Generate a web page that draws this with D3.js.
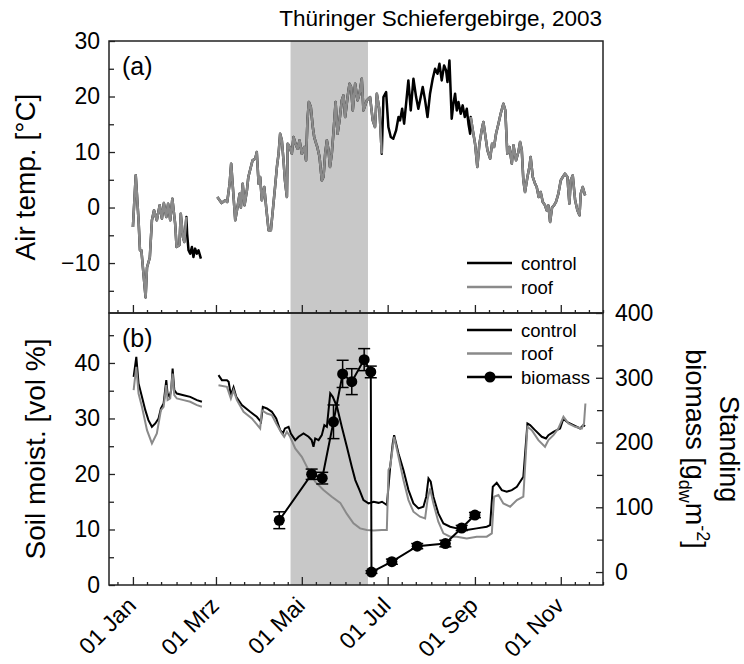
<!DOCTYPE html>
<html>
<head>
<meta charset="utf-8">
<script src="https://cdn.jsdelivr.net/npm/d3@7"></script>
<style>
body { margin: 0; background: #fff; }
svg { font-family: 'Liberation Sans', Arial, sans-serif; }
</style>
</head>
<body>
<svg></svg>
<script>
// all days counted from 01 Jan 2003
let airControl = [
    [0,-3.5],[2,5.8],[4,-2.3],[5,-7.7],[6,-7.7],[9,-16.2],[10,-10.8],[12,-9],[13.5,-2.3],[15,-0.5],
    [17,-2.3],[19,0.4],[20.6,-2],[22,0.8],[23.7,-1.7],[25,0.7],[26.5,-2.3],[28,1.6],[30,-2.9],[31,-7.1],
    [33,-6.8],[34,-1.1],[35.5,-5.3],[36.5,-6.2],[38,-1.7],[38.5,-4.7],[39.5,-7.7],[40.7,-8.3],[41.9,-7.1],
    [43,-8.9],[44.2,-7.4],[45.4,-8.3],[46.6,-7.7],[48.3,-9.2],
    [60,1.9],[61.6,1.3],[63,0.8],[65.6,1.3],[67,1.0],[68.7,4.3],[69.8,7.9],[71,3.7],[72.7,-2.3],[74.3,0.1],
    [75.8,2.5],[76.7,0],[78,4.3],[79.3,0.4],[81,3.1],[82,5.5],[83.8,7.3],[85,8.5],[86.9,8.8],[88,10],
    [89.3,4.3],[90.4,5.5],[91.6,1.3],[93.3,3.7],[94.7,0],[96.4,-4.1],[98,-4.1],[99.4,-0.5],[101,3.7],
    [102.3,7.3],[103.5,9.7],[104.6,13.3],[105.8,12.1],[107,8.5],[108,4.9],[109.4,1.9],[110,11.5],[111.3,10.9],
    [112.9,9.7],[114.1,12.7],[115.5,11.5],[117,10.6],[118.4,12.1],[120,9.7],[121.7,10.9],[123,8.5],[124,15.7],
    [125,19],[126.4,18.1],[127.8,14.5],[128.8,12.7],[130.2,11.5],[131,10.9],[132.6,9.1],[134.2,4.9],[135.4,5.5],
    [136.6,9.7],[137.8,12.1],[139,10.3],[140,7.3],[141.3,9.7],[142.6,13.9],[144,19],[145.4,13.3],[146.8,15.7],
    [148.4,19.3],[149.6,20.2],[150.8,16.3],[152.5,19.9],[153.9,22.3],[155,21.7],[156.2,17.5],[157.9,22.3],
    [159.6,19.3],[161,20.5],[162.6,23.2],[163.8,17.5],[166.2,19.3],[168.5,19.9],[170.4,15.7],[172,14.5],
    [173.3,20.5],[175.2,17.5],[176.8,9.7],[178,19.9],[179.9,20.8],[181.5,14.5],[183.2,12.7],[185,12.4],
    [187,13.9],[188.7,16.3],[189.8,15.7],[191.3,17.8],[192.7,15.1],[194.1,18.7],[195.7,22.9],[197.4,17.5],
    [199.3,23.2],[201.2,19.9],[202.8,17.8],[204,19.3],[205.9,21.7],[207.6,19.3],[209.3,16.3],[211.1,20.5],
    [213,23.2],[214.7,25],[216.4,24.1],[217.8,25.9],[219.4,22.9],[221.1,25.6],[222.5,24.7],[223.5,22.6],
    [224.9,26.5],[226.5,16],[227.7,18.7],[228.9,20.5],[230.1,17.5],[231.3,19],[232.9,16.9],[234.3,18.4],
    [235.8,16.3],[237.2,17.8],[238.4,15.1],[239.6,13.3],[240,16.3],[241.5,13.9],[243.1,11.5],[244.7,7.3],
    [246.2,11.5],[247.8,13.9],[249,15.4],[250.2,13.3],[251.9,10.3],[253.8,8.8],[255.2,11.5],[256.6,10.9],
    [258,13.3],[259.7,15.1],[261.3,16.9],[263.2,18.7],[264.6,17.5],[266,9.7],[267.5,10.9],[269.2,7.9],
    [270.4,11.2],[272.2,8.5],[273.9,10],[275.1,11.8],[276.3,10.3],[277.4,4.9],[278.6,2.8],[280.3,5.5],
    [281.7,7.3],[282.6,9.1],[284.1,5.5],[285.7,4.3],[286.9,3.7],[288.3,1.9],[289.7,2.8],[291.2,1],[292.8,0.4],
    [294,-0.5],[295.2,0.4],[296.4,-2.6],[297.8,0],[299.2,0.4],[300.6,1],[302.3,2.5],[304,4.9],[305.4,5.5],
    [307,6.1],[308.7,5.5],[310.1,0.7],[311.1,4.9],[312.5,5.8],[314.2,1.3],[315.8,-0.5],[317.3,-1.4],
    [318.2,2.5],[319.6,3.7],[321.3,2.2]
]
// periods where the roof logger recorded air temp (same values as control)
let roofAirPeriods = [[0, 38], [60, 177], [240, 322]]

let soilControl = [
    [0.5,37.5],[2.4,41.1],[4,36.3],[6.4,33.9],[8.8,31.5],[11,29.7],[13.5,28.5],[15.9,29.1],[18.2,30],
    [19.9,31.8],[21.8,32.7],[23.7,36.9],[24.6,34.5],[26,33.9],[27.2,35.1],[28.2,39],[29.4,35.1],[31.2,34.5],
    [36,34.2],[40.7,33.9],[45.5,33.3],[49,33],
    [60.8,37.8],[63.2,36.9],[66.8,36.9],[68,36.6],[69.6,34.2],[71.5,35.6],[73.4,33.9],[77.4,32.4],[83.3,31.2],
    [88,30.3],[91,29.4],[92.3,32.1],[95.2,31.8],[98.7,31.2],[101.8,30],[104.6,27.9],[106.5,27.3],[108,28.2],
    [110.6,28.5],[112.2,27.3],[115.3,26.1],[117.7,26.7],[121.2,27.3],[124.8,26.7],[127,26.1],[128.3,24.9],
    [129.5,26.4],[131.9,26.1],[134.2,27],[136,28.8],[137.8,28.5],[140.2,34.5],[142,33.9],[145,32.1],
    [148.4,28.5],[152,24.9],[155.5,21.3],[158,18.9],[161,17.1],[163.8,15.3],[167.4,14.7],[171,15],
    [174.5,14.8],[177,15],[180.4,14.4],[181.6,17.7],[182.8,21.3],[184.6,25.5],[185.6,27],[188.7,23.7],
    [192.2,20.7],[195.8,17.1],[199.3,14.7],[202.9,13.8],[206.4,14.1],[208.4,15.9],[210,19.2],[211.6,18.6],
    [213.5,15.9],[217,12.9],[220.6,11.1],[225.4,10.5],[230.1,10.2],[237.2,9.9],[244.3,10.2],[251.4,10.5],
    [253.8,10.8],[255.7,17.7],[258.5,18.4],[262.1,17.1],[265.6,16.8],[269.2,17.1],[272.8,17.7],[277.4,19.5],
    [280.3,29.1],[282.2,28.8],[285.7,27.9],[290.5,26.7],[293.5,26.4],[295.2,27],[298.8,27.6],[301.1,27.9],
    [303.5,28.2],[305.9,30],[308.2,29.4],[313,28.8],[317.7,28.2],[320.1,28.8],[321.3,28.6]
]

let soilRoof = [
    [0.5,35.1],[2.4,39.3],[4,34.5],[6.4,32.1],[10,27.9],[13.5,25.5],[17,27.3],[19.9,31.5],[21.8,32.1],
    [23.7,36],[24.6,33.3],[26.5,33.6],[28.2,38.1],[29.4,34.2],[31.2,33.6],[36,33.3],[40.7,33],[45.5,32.4],[49,32.1],
    [60.8,36],[66.8,35.7],[69.6,33.6],[71.5,35.1],[73.9,33.3],[78.6,31.2],[84.5,30],[90.4,28.2],[91.6,31.5],
    [95.2,30.9],[98.7,30.6],[101.8,29.1],[105.8,27.3],[107.5,26.7],[109.4,27.6],[111.7,26.7],[115.3,24.6],
    [120,23.1],[124.8,20.7],[129.5,18.6],[135.4,17.1],[141.3,15.9],[147.3,14.8],[152,12.8],[156.7,11.1],
    [161.4,10.2],[166.2,9.9],[171,9.8],[176.8,9.9],[180.4,9.9],[181.6,20.7],[182.8,21.3],[185.6,26.7],
    [188.7,23.1],[192.2,18.9],[195.8,15.3],[199.3,13.2],[204,12.3],[207.6,12],[209.3,15.3],[211.1,17.4],
    [213.5,14.7],[217,11.4],[220.6,9.3],[225.4,8.7],[230.1,8.7],[237.2,8.4],[244.3,8.7],[251.4,8.7],
    [255,9.3],[256.6,15.9],[259.7,16.2],[263.2,14.7],[268,14.1],[272.8,15.3],[277.4,15.9],[280.3,28.5],
    [283.4,27.9],[288.1,26.1],[292.8,24.9],[295.2,26.1],[298.8,27],[302.3,28.2],[305.9,30.3],[309.4,29.1],
    [314.2,28.5],[318.9,28.2],[320.5,29.1],[321.5,32.7]
]

let bioDays = [104, 127, 134.5, 142.5, 149, 155.5, 164.3, 169, 169.5, 184, 202, 222, 233.6, 243]
let bioValues = [80, 151, 145, 232, 306, 294, 328, 309, 0, 16, 40, 44, 68, 88]
let bioSd = [13, 8, 9, 26, 21, 20, 17, 9, 2, 4, 4, 5, 4, 4]

let shadeDays = [112, 167]

let monthNames = ['Jan', 'Feb', 'Mrz', 'Apr', 'Mai', 'Jun', 'Jul', 'Aug', 'Sep', 'Okt', 'Nov', 'Dez']
let airTicks = [-10, 0, 10, 20, 30]
let soilTicks = [0, 10, 20, 30, 40]
let bioTicks = [0, 100, 200, 300, 400]

let legendA = ['control', 'roof']
let legendB = ['control', 'roof', 'biomass']

let width = 744
let height = 664
let left = 109
let right = 603
let topA = 41
let split = 313
let bottomB = 585

let black = '#000'
let grey = '#8a8a8a'
let frameColor = '#222'

let svg = d3.select('svg').attr('width', width).attr('height', height)

let de = d3.timeFormatLocale({
    dateTime: '%A, %e. %B %Y, %X', date: '%d.%m.%Y', time: '%H:%M:%S',
    periods: ['AM', 'PM'],
    days: ['Sonntag', 'Montag', 'Dienstag', 'Mittwoch', 'Donnerstag', 'Freitag', 'Samstag'],
    shortDays: ['So', 'Mo', 'Di', 'Mi', 'Do', 'Fr', 'Sa'],
    months: ['Januar', 'Februar', 'März', 'April', 'Mai', 'Juni', 'Juli', 'August', 'September', 'Oktober', 'November', 'Dezember'],
    shortMonths: monthNames
})

let jan1 = new Date(2003, 0, 1)
let toDate = (d) => new Date(jan1.getTime() + d * 864e5)

let xScale = d3.scaleTime()
    .domain([new Date(2002, 11, 15), new Date(2003, 11, 1)])
    .range([left, right])
let yAir = d3.scaleLinear().domain([-19, 30]).range([split, topA])
let ySoil = d3.scaleLinear().domain([0, 49]).range([bottomB, split])
let yBio = d3.scaleLinear().domain([-20, 400]).range([bottomB, split])

// break lines where the loggers have no data (the Feb gap)
let withGaps = (data) => {
    let out = []
    data.forEach((p, i) => {
        if (i > 0 && p[0] - data[i - 1][0] > 10) out.push([p[0] - 1, null])
        out.push(p)
    })
    return out
}

let inRoof = (d) => roofAirPeriods.some((r) => d >= r[0] && d <= r[1])
let airRoof = withGaps(airControl).map((p) => [p[0], p[1] != null && inRoof(p[0]) ? p[1] : null])

let lineGen = (yScale) => d3.line()
    .defined((p) => p[1] != null)
    .x((p) => xScale(toDate(p[0])))
    .y((p) => yScale(p[1]))

let majorDates = [0, 2, 4, 6, 8, 10].map((m) => new Date(2003, m, 1))
let minorDates = []
d3.range(-1, 12).forEach((m) => {
    [1, 11, 21].forEach((day) => {
        let dt = new Date(2003, m, day)
        if (!(day == 1 && m % 2 == 0) && dt >= xScale.domain()[0] && dt <= xScale.domain()[1]) minorDates.push(dt)
    })
})

let drawShade = () => {
    svg.append('rect')
        .attr('x', xScale(toDate(shadeDays[0])))
        .attr('width', xScale(toDate(shadeDays[1])) - xScale(toDate(shadeDays[0])))
        .attr('y', topA)
        .attr('height', bottomB - topA)
        .attr('fill', '#c8c8c8')
}

let styleAxis = (g) => {
    g.attr('font-size', 23).attr('font-family', null)
    g.select('.domain').remove()
    g.selectAll('line').attr('stroke', frameColor).attr('stroke-width', 1.3)
    g.selectAll('text').attr('fill', '#000')
}

let drawAxes = () => {
    // panel a
    svg.append('g').attr('transform', 'translate(' + left + ',0)')
        .call(d3.axisLeft(yAir).tickValues(airTicks).tickSize(-6).tickPadding(9)).call(styleAxis)
    svg.append('g').attr('transform', 'translate(' + left + ',0)')
        .call(d3.axisLeft(yAir).tickValues([-15, -5, 5, 15, 25]).tickSize(-5).tickFormat('')).call(styleAxis)
    svg.append('g').attr('transform', 'translate(0,' + split + ')')
        .call(d3.axisBottom(xScale).tickValues(majorDates).tickSize(-8).tickFormat('')).call(styleAxis)
    svg.append('g').attr('transform', 'translate(0,' + split + ')')
        .call(d3.axisBottom(xScale).tickValues(minorDates).tickSize(-3).tickFormat('')).call(styleAxis)

    // panel b
    svg.append('g').attr('transform', 'translate(' + left + ',0)')
        .call(d3.axisLeft(ySoil).tickValues(soilTicks).tickSize(-6).tickPadding(9)).call(styleAxis)
    svg.append('g').attr('transform', 'translate(' + left + ',0)')
        .call(d3.axisLeft(ySoil).tickValues([5, 15, 25, 35, 45]).tickSize(-5).tickFormat('')).call(styleAxis)
    svg.append('g').attr('transform', 'translate(' + right + ',0)')
        .call(d3.axisRight(yBio).tickValues(bioTicks).tickSize(-7).tickPadding(12)).call(styleAxis)
    svg.append('g').attr('transform', 'translate(' + right + ',0)')
        .call(d3.axisRight(yBio).tickValues([50, 150, 250, 350]).tickSize(-6).tickFormat('')).call(styleAxis)
    svg.append('g').attr('transform', 'translate(0,' + bottomB + ')')
        .call(d3.axisBottom(xScale).tickValues(minorDates).tickSize(-3).tickFormat('')).call(styleAxis)

    let xb = svg.append('g').attr('transform', 'translate(0,' + bottomB + ')')
        .call(d3.axisBottom(xScale).tickValues(majorDates).tickSize(-8).tickFormat(de.format('%d %b')))
        .call(styleAxis)
    xb.selectAll('.tick text')
        .attr('text-anchor', 'end')
        .attr('dy', null)
        .attr('y', null)
        .attr('font-size', 23)
        .attr('transform', 'translate(4,22) rotate(-45)')

    // frames
    ;[[topA, split], [split, bottomB]].forEach((p) => {
        svg.append('rect')
            .attr('x', left).attr('y', p[0])
            .attr('width', right - left).attr('height', p[1] - p[0])
            .attr('fill', 'none').attr('stroke', frameColor).attr('stroke-width', 1.5)
    })
}

let drawAir = () => {
    svg.append('path').datum(withGaps(airControl))
        .attr('d', lineGen(yAir))
        .attr('fill', 'none').attr('stroke', black).attr('stroke-width', 2.5)
        .attr('stroke-linejoin', 'round')
    svg.append('path').datum(airRoof)
        .attr('d', lineGen(yAir))
        .attr('fill', 'none').attr('stroke', grey).attr('stroke-width', 2.5)
        .attr('stroke-linejoin', 'round')
}

let drawSoil = () => {
    svg.append('path').datum(withGaps(soilControl))
        .attr('d', lineGen(ySoil))
        .attr('fill', 'none').attr('stroke', black).attr('stroke-width', 2)
    svg.append('path').datum(withGaps(soilRoof))
        .attr('d', lineGen(ySoil))
        .attr('fill', 'none').attr('stroke', grey).attr('stroke-width', 2)
}

let drawBiomass = () => {
    let pts = bioDays.map((d, i) => ({ x: xScale(toDate(d)), v: bioValues[i], sd: bioSd[i] }))
    svg.append('path').datum(pts)
        .attr('d', d3.line().x((p) => p.x).y((p) => yBio(p.v)))
        .attr('fill', 'none').attr('stroke', black).attr('stroke-width', 2)

    let bars = svg.append('g').attr('stroke', black).attr('stroke-width', 1.5)
    pts.forEach((p) => {
        bars.append('line').attr('x1', p.x).attr('x2', p.x).attr('y1', yBio(p.v - p.sd)).attr('y2', yBio(p.v + p.sd))
        ;[p.v - p.sd, p.v + p.sd].forEach((v) => {
            bars.append('line').attr('x1', p.x - 6).attr('x2', p.x + 6).attr('y1', yBio(v)).attr('y2', yBio(v))
        })
    })

    svg.append('g').selectAll('circle')
        .data(pts)
        .enter()
        .append('circle')
        .attr('cx', (p) => p.x)
        .attr('cy', (p) => yBio(p.v))
        .attr('r', 5.5)
        .attr('fill', black)
}

let drawLegends = () => {
    let styles = { control: [black, 2.5], roof: [grey, 2.5], biomass: [black, 2.5] }
    let drawLegend = (items, y0, step) => {
        items.forEach((name, i) => {
            let y = y0 + i * step
            svg.append('line')
                .attr('x1', 467).attr('x2', 512).attr('y1', y).attr('y2', y)
                .attr('stroke', styles[name][0]).attr('stroke-width', styles[name][1])
            if (name == 'biomass') {
                svg.append('circle').attr('cx', 490).attr('cy', y).attr('r', 5.5).attr('fill', black)
            }
            svg.append('text')
                .attr('x', 521).attr('y', y + 6.5)
                .attr('font-size', 18.5)
                .text(name)
        })
    }
    drawLegend(legendA, 263, 24)
    drawLegend(legendB, 330, 23.5)
}

let drawLabels = () => {
    svg.append('text')
        .attr('x', 602).attr('y', 26)
        .attr('text-anchor', 'end')
        .attr('font-size', 22.5)
        .text('Thüringer Schiefergebirge, 2003')

    svg.append('text').attr('x', 122).attr('y', 75).attr('font-size', 25).text('(a)')
    svg.append('text').attr('x', 122).attr('y', 347).attr('font-size', 25).text('(b)')

    svg.append('text')
        .attr('transform', 'translate(35,' + (topA + split) / 2 + ') rotate(-90)')
        .attr('text-anchor', 'middle')
        .attr('font-size', 28)
        .text('Air temp. [°C]')

    svg.append('text')
        .attr('transform', 'translate(45,' + (split + bottomB) / 2 + ') rotate(-90)')
        .attr('text-anchor', 'middle')
        .attr('font-size', 28)
        .text('Soil moist. [vol %]')

    let rt = svg.append('text')
        .attr('transform', 'translate(720,' + (split + bottomB) / 2 + ') rotate(90)')
        .attr('text-anchor', 'middle')
        .attr('font-size', 27)
    rt.append('tspan').attr('x', 0).text('Standing')
    let l2 = rt.append('tspan').attr('x', 0).attr('dy', 34)
    l2.append('tspan').text('biomass [g')
    l2.append('tspan').attr('dy', 7).attr('font-size', 18).text('dw')
    l2.append('tspan').attr('dy', -7).text('m')
    l2.append('tspan').attr('dy', -11).attr('font-size', 18).text('-2')
    l2.append('tspan').attr('dy', 11).text(']')
}

drawShade()
drawAir()
drawSoil()
drawBiomass()
drawAxes()
drawLegends()
drawLabels()
</script>
</body>
</html>
